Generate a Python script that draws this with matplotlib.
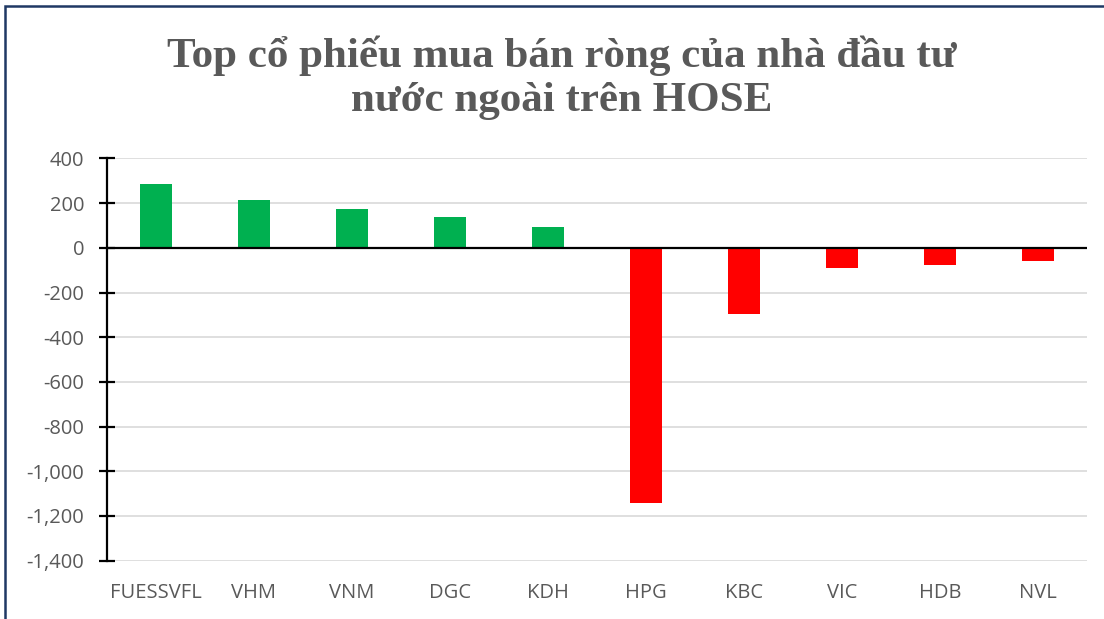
import matplotlib
matplotlib.use("Agg")
import matplotlib.pyplot as plt
from matplotlib.patches import Rectangle
from matplotlib.ticker import FuncFormatter

categories = ["FUESSVFL", "VHM", "VNM", "DGC", "KDH", "HPG", "KBC", "VIC", "HDB", "NVL"]
values = [284, 216, 172, 140, 94, -1140, -297, -91, -76, -58]
yticks = [400, 200, 0, -200, -400, -600, -800, -1000, -1200, -1400]
title = "Top cổ phiếu mua bán ròng của nhà đầu tư\nnước ngoài trên HOSE"

fig = plt.figure(figsize=(11.04, 6.19), dpi=100)
ax = fig.add_axes([0.0969, 0.0942, 0.8877, 0.6498])

colors = ["#00B050" if v >= 0 else "#FF0000" for v in values]
x = range(len(categories))
ax.bar(x, values, width=0.32, color=colors, zorder=3)

ax.set_xlim(-0.5, len(categories) - 0.5)
ax.set_ylim(-1400, 400)
ax.set_yticks(yticks)
ax.yaxis.set_major_formatter(FuncFormatter(lambda v, p: f"{int(v):,}"))
ax.set_xticks(list(x))
ax.set_xticklabels(categories)

ax.grid(axis="y", color="#D9D9D9", linewidth=1.2, zorder=0)
ax.axhline(0, color="black", linewidth=1.6, zorder=4)

for s in ["top", "right", "bottom"]:
    ax.spines[s].set_visible(False)
ax.spines["left"].set_color("black")
ax.spines["left"].set_linewidth(1.6)

ax.tick_params(axis="y", direction="inout", length=11, width=1.6, color="black",
               labelcolor="#595959", labelsize=14.5, pad=11)
ax.tick_params(axis="x", length=0, labelcolor="#595959", labelsize=14.5, pad=16)
for lab in ax.get_xticklabels() + ax.get_yticklabels():
    lab.set_fontfamily("Open Sans")

fig.text(0.509, 0.874, title, ha="center", va="center", fontsize=31, fontweight="bold",
         color="#595959", family="Liberation Serif", linespacing=1.22)

fig.patches.append(Rectangle((0.0045, -0.05), 1.02, 1.04, transform=fig.transFigure,
                             fill=False, edgecolor="#1F3864", linewidth=1.8))

fig.savefig("out.png", dpi=100)
